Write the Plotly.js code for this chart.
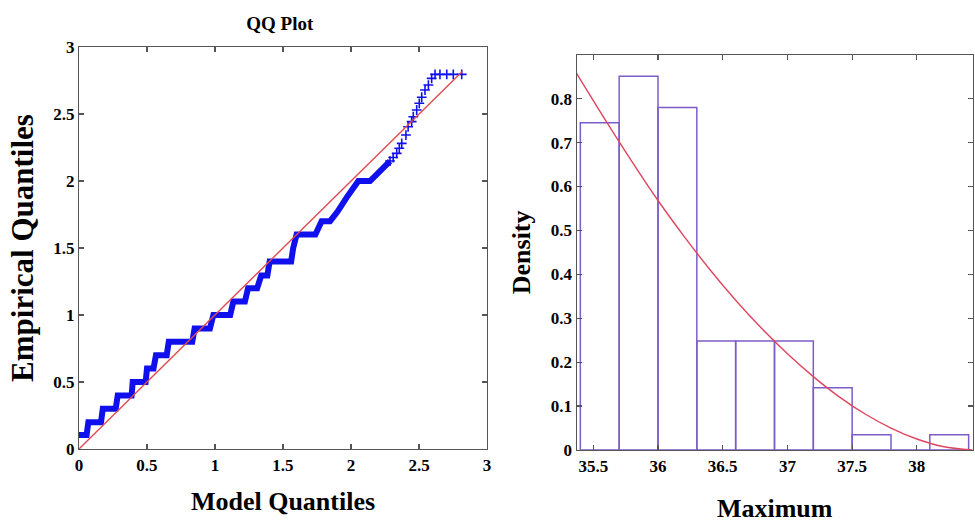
<!DOCTYPE html>
<html>
<head>
<meta charset="utf-8">
<script src="https://cdn.plot.ly/plotly-3.0.1.min.js"></script>
<style>html,body{margin:0;padding:0;background:#fff;}#chart{width:975px;height:527px;}</style>
</head>
<body>
<div id="chart"></div>
<script>
// ---- QQ plot: dense stepped part (vertices) ----
const qqDenseX = [0.0, 0.056, 0.069, 0.162, 0.175, 0.270, 0.285, 0.387, 0.395, 0.490, 0.500, 0.548, 0.566, 0.645, 0.660, 0.833,
  0.850, 0.963, 0.988, 1.112, 1.135, 1.220, 1.243, 1.310, 1.340, 1.385, 1.402, 1.560, 1.575, 1.600, 1.738, 1.784, 1.846,
  1.900, 1.970, 2.020, 2.054, 2.140, 2.200, 2.230, 2.260, 2.287];
const qqDenseY = [0.105, 0.105, 0.200, 0.200, 0.300, 0.300, 0.400, 0.400, 0.500, 0.500, 0.600, 0.600, 0.700, 0.700, 0.800, 0.800,
  0.900, 0.900, 1.000, 1.000, 1.100, 1.100, 1.200, 1.200, 1.295, 1.295, 1.400, 1.400, 1.500, 1.600, 1.600, 1.700, 1.700,
  1.770, 1.880, 1.960, 2.000, 2.000, 2.060, 2.095, 2.110, 2.149];
// ---- QQ plot: sparse upper markers ----
const qqSparseX = [2.287, 2.310, 2.336, 2.355, 2.373, 2.404, 2.420, 2.446, 2.458, 2.483, 2.502, 2.520, 2.544, 2.569, 2.593, 2.618, 2.654, 2.704, 2.752, 2.814];
const qqSparseY = [2.149, 2.175, 2.206, 2.245, 2.281, 2.343, 2.405, 2.443, 2.480, 2.530, 2.580, 2.625, 2.679, 2.716, 2.766, 2.796, 2.796, 2.796, 2.796, 2.796];
// ---- QQ reference line ----
const refLineX = [0, 2.82];
const refLineY = [0, 2.82];
const qqTicks = [0, 0.5, 1, 1.5, 2, 2.5, 3];

// ---- Histogram ----
const binCenters = [35.55, 35.85, 36.15, 36.45, 36.75, 37.05, 37.35, 37.65, 37.95, 38.25];
const binWidth = 0.3;
const densities = [0.745, 0.851, 0.780, 0.248, 0.248, 0.248, 0.142, 0.035, 0.0, 0.035];
// ---- Fitted density curve ----
const fitX = [35.37, 35.6, 35.8, 36.0, 36.2, 36.4, 36.6, 36.8, 37.0, 37.2, 37.4, 37.6, 37.8, 38.0, 38.2, 38.43];
const fitY = [0.858, 0.748, 0.656, 0.568, 0.487, 0.411, 0.341, 0.277, 0.219, 0.167, 0.121, 0.082, 0.050, 0.025, 0.008, 0.0];
const histXTicks = [35.5, 36, 36.5, 37, 37.5, 38];
const histXTickText = ['35.5', '36', '36.5', '37', '37.5', '38'];
const histYTicks = [0, 0.1, 0.2, 0.3, 0.4, 0.5, 0.6, 0.7, 0.8];
const histYTickText = ['0', '0.1', '0.2', '0.3', '0.4', '0.5', '0.6', '0.7', '0.8'];

const SERIF = 'Liberation Serif, Times New Roman, serif';
const tickFont = {family: SERIF, size: 17, color: '#000', weight: 'bold'};
const axisCommon = {
  showline: true, linecolor: '#555', linewidth: 1.2, mirror: 'ticks',
  ticks: 'inside', ticklen: 5, tickcolor: '#555', tickwidth: 1.2,
  showgrid: false, zeroline: false, tickfont: tickFont, fixedrange: true
};

const traces = [
  {x: qqDenseX, y: qqDenseY, type: 'scatter', mode: 'lines', xaxis: 'x', yaxis: 'y',
   line: {color: '#1010ee', width: 6}, hoverinfo: 'skip'},
  {x: qqSparseX, y: qqSparseY, type: 'scatter', mode: 'markers', xaxis: 'x', yaxis: 'y',
   marker: {symbol: 'cross-thin-open', size: 7, color: '#1010ee', line: {color: '#1010ee', width: 1.6}}},
  {x: refLineX, y: refLineY, type: 'scatter', mode: 'lines', xaxis: 'x', yaxis: 'y',
   line: {color: '#e04a50', width: 1.4}},
  {x: binCenters, y: densities, width: binCenters.map(() => binWidth), type: 'bar', xaxis: 'x2', yaxis: 'y2',
   marker: {color: 'rgba(255,255,255,0)', line: {color: '#7d5cc8', width: 1.5}}},
  {x: fitX, y: fitY, type: 'scatter', mode: 'lines', xaxis: 'x2', yaxis: 'y2',
   line: {color: '#e0455e', width: 1.4, shape: 'spline'}}
];

const layout = {
  width: 975, height: 527,
  margin: {l: 0, r: 0, t: 0, b: 0},
  paper_bgcolor: '#fff', plot_bgcolor: '#fff',
  showlegend: false,
  title: {text: 'QQ Plot', font: {family: SERIF, size: 19, color: '#000', weight: 'bold'},
          x: 0.287, xanchor: 'center', y: 0.955, yanchor: 'middle'},
  xaxis: Object.assign({}, axisCommon, {domain: [0.081, 0.4995], range: [0, 3], tickvals: qqTicks,
    title: {text: 'Model Quantiles', font: {family: SERIF, size: 26, color: '#000', weight: 'bold'}, standoff: 18}}),
  yaxis: Object.assign({}, axisCommon, {domain: [0.148, 0.9108], range: [0, 3], tickvals: qqTicks,
    title: {text: 'Empirical Quantiles', font: {family: SERIF, size: 31, color: '#000', weight: 'bold'}, standoff: 10}}),
  xaxis2: Object.assign({}, axisCommon, {domain: [0.5915, 0.9976], range: [35.372, 38.431], tickvals: histXTicks, ticktext: histXTickText, anchor: 'y2',
    title: {text: 'Maximum', font: {family: SERIF, size: 26, color: '#000', weight: 'bold'}, standoff: 24}}),
  yaxis2: Object.assign({}, axisCommon, {domain: [0.1461, 0.8962], range: [0, 0.9], tickvals: histYTicks, ticktext: histYTickText, anchor: 'x2',
    title: {text: 'Density', font: {family: SERIF, size: 26, color: '#000', weight: 'bold'}, standoff: 12}}),
  bargap: 0
};

Plotly.newPlot('chart', traces, layout, {staticPlot: true, displayModeBar: false});
</script>
</body>
</html>
